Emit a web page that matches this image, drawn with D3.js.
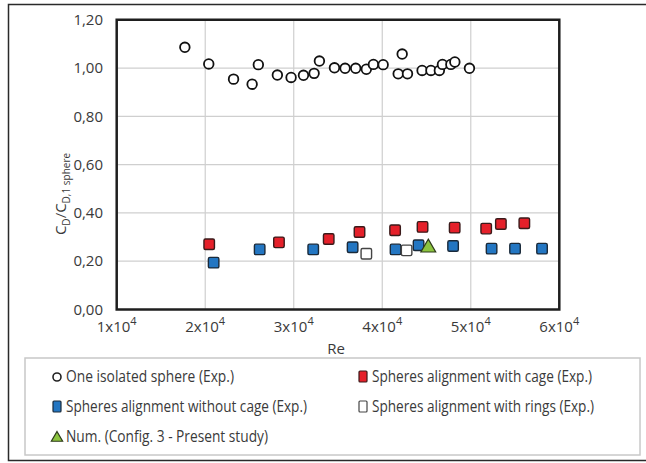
<!DOCTYPE html>
<html>
<head>
<meta charset="utf-8">
<script src="https://cdn.jsdelivr.net/npm/d3@7"></script>
<style>
  body { margin: 0; background: #fff; }
  svg text { font-family: "Liberation Sans Narrow", "Open Sans", sans-serif; fill: #3a3a3a; }
</style>
</head>
<body>
<div id="chart"></div>
<script>
// Re values and C_D / C_D,1 sphere values
const isolatedRe = [17700, 20400, 23200, 25300, 26000, 28150, 29700, 31100, 32300, 32900, 34600, 35800,
  37000, 38200, 39000, 40100, 41800, 42250, 42850, 44500, 45500, 46450, 46800, 47750, 48200, 49850];
const isolatedCd = [1.086, 1.017, 0.954, 0.933, 1.014, 0.971, 0.961, 0.970, 0.978, 1.029, 1.001, 0.999,
  0.999, 0.995, 1.015, 1.014, 0.976, 1.058, 0.976, 0.990, 0.990, 0.990, 1.015, 1.015, 1.025, 0.999];

const cageRe = [20450, 28330, 33950, 37430, 41450, 44550, 48180, 51740, 53400, 56050];
const cageCd = [0.270, 0.278, 0.292, 0.321, 0.328, 0.342, 0.339, 0.335, 0.354, 0.357];

const noCageRe = [20950, 26150, 32200, 36650, 41500, 44100, 48000, 52350, 55000, 58050];
const noCageCd = [0.194, 0.249, 0.249, 0.258, 0.249, 0.266, 0.263, 0.252, 0.252, 0.252];

const ringsRe = [38200, 42750];
const ringsCd = [0.231, 0.245];

const numRe = [45200];
const numCd = [0.260];

const xTicks = [1, 2, 3, 4, 5, 6];
const yTicks = [0, 0.2, 0.4, 0.6, 0.8, 1.0, 1.2];

const legendLabels = [
  "One isolated sphere (Exp.)",
  "Spheres alignment with cage (Exp.)",
  "Spheres alignment without cage (Exp.)",
  "Spheres alignment with rings (Exp.)",
  "Num. (Config. 3 - Present study)"
];

const W = 646, H = 463;
const plot = { left: 116.7, right: 559.3, top: 19.75, bottom: 309.5 };

const svg = d3.select("#chart").append("svg")
  .attr("width", W)
  .attr("height", H);

// outer frame
svg.append("rect")
  .attr("x", 8.5).attr("y", 4.5)
  .attr("width", 700).attr("height", 456)
  .attr("fill", "none")
  .attr("stroke", "#2a2a2a")
  .attr("stroke-width", 1.5);

const x = d3.scaleLinear().domain([1e4, 6e4]).range([plot.left, plot.right]);
const y = d3.scaleLinear().domain([0, 1.2]).range([plot.bottom, plot.top]);

// grid
svg.append("g")
  .selectAll("line.vg")
  .data(xTicks.slice(1, -1))
  .enter().append("line")
  .attr("x1", d => x(d * 1e4)).attr("x2", d => x(d * 1e4))
  .attr("y1", plot.top).attr("y2", plot.bottom)
  .attr("stroke", "#cfcfcf").attr("stroke-width", 1.2);

svg.append("g")
  .selectAll("line.hg")
  .data(yTicks.slice(1, -1))
  .enter().append("line")
  .attr("x1", plot.left).attr("x2", plot.right)
  .attr("y1", d => y(d)).attr("y2", d => y(d))
  .attr("stroke", "#cfcfcf").attr("stroke-width", 1.2);

// plot frame
svg.append("rect")
  .attr("x", plot.left).attr("y", plot.top)
  .attr("width", plot.right - plot.left)
  .attr("height", plot.bottom - plot.top)
  .attr("fill", "none")
  .attr("stroke", "#1e1e1e")
  .attr("stroke-width", 2.5);

// y tick labels
svg.append("g")
  .selectAll("text")
  .data(yTicks)
  .enter().append("text")
  .attr("x", 103)
  .attr("y", d => y(d))
  .attr("dy", "0.35em")
  .attr("text-anchor", "end")
  .style("font-size", "15px")
  .text(d => d3.format(".2f")(d).replace(".", ","));

// x tick labels, 1x10^4 style
const xl = svg.append("g")
  .selectAll("text")
  .data(xTicks)
  .enter().append("text")
  .attr("x", d => x(d * 1e4))
  .attr("y", 332)
  .attr("text-anchor", "middle")
  .style("font-size", "15px");
xl.append("tspan").text(d => d + "x10");
xl.append("tspan").attr("dy", -7).style("font-size", "11px").text("4");

svg.append("text")
  .attr("x", (plot.left + plot.right) / 2 - 2)
  .attr("y", 354)
  .attr("text-anchor", "middle")
  .style("font-size", "15px")
  .text("Re");

// y title
const yt = svg.append("text")
  .attr("transform", "translate(66,194) rotate(-90)")
  .attr("text-anchor", "middle")
  .style("font-size", "15px");
yt.append("tspan").text("C");
yt.append("tspan").attr("dy", 4).style("font-size", "10px").text("D");
yt.append("tspan").attr("dy", -4).text("/C");
yt.append("tspan").attr("dy", 4).style("font-size", "10px").text("D,1 sphere");

// markers
function drawCircles(xs, ys) {
  svg.append("g")
    .selectAll("circle")
    .data(xs.map((d, i) => [d, ys[i]]))
    .enter().append("circle")
    .attr("cx", d => x(d[0]))
    .attr("cy", d => y(d[1]))
    .attr("r", 4.8)
    .attr("fill", "#fff")
    .attr("stroke", "#111")
    .attr("stroke-width", 1.8);
}

function drawSquares(xs, ys, fill, stroke) {
  const s = 10.5;
  svg.append("g")
    .selectAll("rect")
    .data(xs.map((d, i) => [d, ys[i]]))
    .enter().append("rect")
    .attr("x", d => x(d[0]) - s / 2)
    .attr("y", d => y(d[1]) - s / 2)
    .attr("width", s).attr("height", s)
    .attr("rx", 1.5)
    .attr("fill", fill)
    .attr("stroke", stroke)
    .attr("stroke-width", 1.4);
}

const triangle = d3.symbol().type(d3.symbolTriangle).size(95);

drawCircles(isolatedRe, isolatedCd);
drawSquares(cageRe, cageCd, "#e5202a", "#3a1a1a");
drawSquares(noCageRe, noCageCd, "#2376c2", "#1a2a3a");
drawSquares(ringsRe, ringsCd, "#fff", "#444");

svg.append("g")
  .selectAll("path")
  .data(numRe.map((d, i) => [d, numCd[i]]))
  .enter().append("path")
  .attr("d", triangle)
  .attr("transform", d => `translate(${x(d[0])},${y(d[1]) + 1})`)
  .attr("fill", "#8cc43f")
  .attr("stroke", "#2d3a1a")
  .attr("stroke-width", 1.2);

// legend
const lg = svg.append("g");
lg.append("rect")
  .attr("x", 25).attr("y", 358)
  .attr("width", 615).attr("height", 97)
  .attr("fill", "#fff")
  .attr("stroke", "#c8c8c8")
  .attr("stroke-width", 1.5);

const legendPos = [[57, 377], [363, 377], [57, 407], [363, 407], [57, 437]];
const legendWidth = [168, 220, 241, 222, 202];   // the source font is narrow
const legendStyle = [
  { shape: "circle", fill: "#fff", stroke: "#222" },
  { shape: "square", fill: "#e5202a", stroke: "#3a1a1a" },
  { shape: "square", fill: "#2376c2", stroke: "#1a2a3a" },
  { shape: "square", fill: "#fff", stroke: "#444" },
  { shape: "triangle", fill: "#8cc43f", stroke: "#2d3a1a" }
];

legendLabels.forEach((label, i) => {
  const [lx, ly] = legendPos[i];
  const st = legendStyle[i];
  if (st.shape === "circle") {
    lg.append("circle").attr("cx", lx).attr("cy", ly).attr("r", 4)
      .attr("fill", st.fill).attr("stroke", st.stroke).attr("stroke-width", 1.6);
  } else if (st.shape === "square") {
    lg.append("rect").attr("x", lx - 4).attr("y", ly - 6).attr("width", 8).attr("height", 11)
      .attr("rx", 1).attr("fill", st.fill).attr("stroke", st.stroke).attr("stroke-width", 1.2);
  } else {
    lg.append("path").attr("d", d3.symbol().type(d3.symbolTriangle).size(55))
      .attr("transform", `translate(${lx},${ly + 1})`)
      .attr("fill", st.fill).attr("stroke", st.stroke).attr("stroke-width", 1.2);
  }
  lg.append("text")
    .attr("x", lx + 9)
    .attr("y", ly)
    .attr("dy", "0.35em")
    .attr("textLength", legendWidth[i])
    .attr("lengthAdjust", "spacingAndGlyphs")
    .style("font-size", "15.5px")
    .text(label);
});
</script>
</body>
</html>
